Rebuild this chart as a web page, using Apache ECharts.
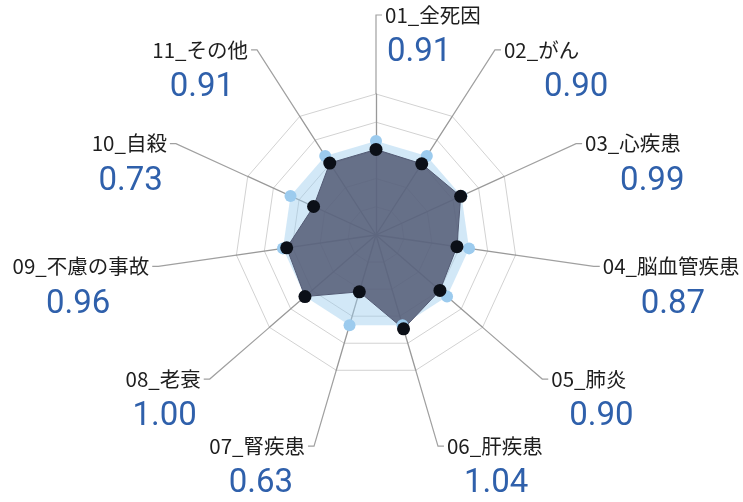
<!DOCTYPE html>
<html>
<head>
<meta charset="utf-8">
<script src="https://cdn.jsdelivr.net/npm/echarts@6/dist/echarts.min.js"></script>
<style>
  html, body { margin: 0; padding: 0; background: #fff; }
  #radarChart { width: 743px; height: 502px; }
</style>
</head>
<body>
<div id="radarChart"></div>
<script>
// 死因別 標準化比
const categories = ['01_全死因', '02_がん', '03_心疾患', '04_脳血管疾患', '05_肺炎', '06_肝疾患',
  '07_腎疾患', '08_老衰', '09_不慮の事故', '10_自殺', '11_その他'];
const ratios = [0.91, 0.90, 0.99, 0.87, 0.90, 1.04, 0.63, 1.00, 0.96, 0.73, 0.91];
const baseline = [1, 1, 1, 1, 1, 1, 1, 1, 1, 1, 1];
// label tweak: how far the value line is pushed relative to the name line
const valueShift = [2, 40, 35, 38, 18, 17, 12, 4, 39, 4, 14];

const center = [376, 235];
const radius = 141;
const n = categories.length;

// echarts radar runs counterclockwise, so keep 01 on top and reverse the rest
let order = [0];
for (let i = n - 1; i > 0; i--) order.push(i);

let chart = echarts.init(document.getElementById('radarChart'));

let pieData = categories.map(function (name, i) {
  let ang = (90 - i * 360 / n) * Math.PI / 180;
  let right = Math.cos(ang) > -1e-6;
  return {
    name: name,
    value: 1,
    label: {
      rich: {
        n: { fontSize: 20.5, lineHeight: 24, color: '#1e1e1e', fontFamily: 'Noto Sans CJK JP' },
        v: {
          fontSize: 33, lineHeight: 52, color: '#2f60ab', fontFamily: 'Roboto',
          padding: right ? [0, 0, 0, valueShift[i]] : [0, valueShift[i], 0, 0]
        }
      }
    }
  };
});

chart.setOption({
  animation: false,
  radar: {
    center: center,
    radius: radius,
    startAngle: 90,
    splitNumber: 5,
    shape: 'polygon',
    axisName: { show: false },
    axisLine: { lineStyle: { color: '#999999', width: 1.3 } },
    splitLine: { lineStyle: { color: '#d2d2d2', width: 1 } },
    splitArea: { show: false },
    indicator: order.map(function (i) { return { name: categories[i], min: 0, max: 1.5 }; })
  },
  series: [
    {
      type: 'radar',
      silent: true,
      z: 2,
      data: [
        {
          name: '基準',
          value: order.map(function (i) { return baseline[i]; }),
          symbol: 'circle',
          symbolSize: 12,
          itemStyle: { color: '#9ccbee' },
          lineStyle: { width: 0, color: '#9ccbee' },
          areaStyle: { color: '#9ccbee', opacity: 0.45 }
        },
        {
          name: '標準化比',
          value: order.map(function (i) { return ratios[i]; }),
          symbol: 'circle',
          symbolSize: 13,
          itemStyle: { color: '#0b0f17' },
          lineStyle: { width: 1, color: '#535b74' },
          areaStyle: { color: '#535b74', opacity: 0.85 }
        }
      ]
    },
    {
      type: 'pie',
      silent: true,
      z: 1,
      center: center,
      radius: radius,
      startAngle: 90 + 180 / n,
      clockwise: true,
      avoidLabelOverlap: false,
      minShowLabelAngle: 0,
      itemStyle: { color: 'rgba(0,0,0,0)' },
      label: {
        show: true,
        position: 'outside',
        alignTo: 'none',
        distanceToLabelLine: 3,
        padding: [52, 0, 0, 0],
        formatter: function (p) {
          return '{n|' + p.name + '}\n{v|' + ratios[p.dataIndex].toFixed(2) + '}';
        }
      },
      labelLine: {
        show: true,
        length: 79,
        length2: 6,
        lineStyle: { color: '#a0a0a0', width: 1.2 }
      },
      data: pieData
    }
  ]
});
</script>
</body>
</html>
